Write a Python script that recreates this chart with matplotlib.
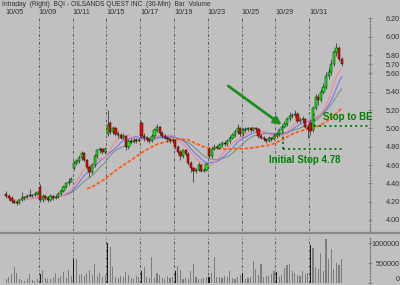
import matplotlib.pyplot as plt
import numpy as np
import pandas as pd
from matplotlib.lines import Line2D

# 30-min bars, 13 per two-day label interval
opens = [
    4.28, 4.26, 4.24, 4.21, 4.20, 4.18, 4.22, 4.24, 4.25, 4.27, 4.26, 4.27, 4.28,
    4.36, 4.22, 4.26, 4.24, 4.22, 4.26, 4.24, 4.25, 4.28, 4.32, 4.36, 4.40, 4.42,
    4.57, 4.62, 4.64, 4.68, 4.73, 4.66, 4.58, 4.52, 4.60, 4.70, 4.76, 4.77, 4.74,
    4.94, 5.06, 4.96, 5.00, 4.94, 4.93, 4.90, 4.92, 4.80, 4.86, 4.85, 4.87, 4.86,
    5.06, 4.92, 4.90, 4.88, 4.86, 4.92, 4.98, 5.01, 4.95, 4.92, 4.90, 4.88, 4.86,
    4.87, 4.80, 4.74, 4.70, 4.76, 4.72, 4.62, 4.57, 4.54, 4.55, 4.60, 4.54, 4.55,
    4.78, 4.70, 4.78, 4.80, 4.79, 4.82, 4.84, 4.83, 4.86, 4.90, 4.93, 4.96, 5.00,
    4.94, 4.98, 4.99, 5.00, 4.98, 5.00, 4.99, 4.92, 4.90, 4.88, 4.86, 4.90, 4.88,
    4.92, 4.94, 4.98, 5.02, 5.05, 5.10, 5.14, 5.15, 5.16, 5.08, 5.09, 5.10, 5.02,
    5.06, 4.98, 5.22, 5.34, 5.31, 5.40, 5.45, 5.57, 5.62, 5.70, 5.83, 5.88, 5.76,
]
closes = [
    4.26, 4.24, 4.21, 4.19, 4.18, 4.22, 4.24, 4.25, 4.26, 4.26, 4.27, 4.28, 4.30,
    4.22, 4.26, 4.24, 4.22, 4.26, 4.24, 4.25, 4.28, 4.32, 4.36, 4.40, 4.42, 4.45,
    4.62, 4.64, 4.68, 4.73, 4.66, 4.58, 4.52, 4.60, 4.70, 4.76, 4.77, 4.74, 4.78,
    5.04, 4.96, 5.00, 4.94, 4.93, 4.90, 4.92, 4.80, 4.86, 4.85, 4.87, 4.86, 4.87,
    4.92, 4.90, 4.88, 4.86, 4.92, 4.98, 5.01, 4.95, 4.92, 4.90, 4.88, 4.86, 4.87,
    4.80, 4.74, 4.70, 4.76, 4.72, 4.62, 4.57, 4.54, 4.55, 4.60, 4.54, 4.55, 4.61,
    4.70, 4.78, 4.80, 4.79, 4.82, 4.84, 4.83, 4.86, 4.90, 4.93, 4.96, 5.00, 4.94,
    4.98, 4.99, 5.00, 4.98, 5.00, 4.99, 4.92, 4.90, 4.88, 4.86, 4.90, 4.88, 4.92,
    4.94, 4.98, 5.02, 5.05, 5.10, 5.14, 5.15, 5.16, 5.08, 5.09, 5.10, 5.02, 4.99,
    4.97, 5.22, 5.34, 5.31, 5.40, 5.45, 5.57, 5.62, 5.70, 5.83, 5.88, 5.76, 5.70,
]
highs = [
    4.32, 4.28, 4.26, 4.23, 4.21, 4.23, 4.30, 4.26, 4.28, 4.34, 4.28, 4.30, 4.31,
    4.39, 4.28, 4.27, 4.26, 4.28, 4.27, 4.27, 4.30, 4.34, 4.38, 4.42, 4.46, 4.47,
    4.64, 4.67, 4.71, 4.75, 4.74, 4.67, 4.59, 4.62, 4.72, 4.78, 4.80, 4.79, 4.80,
    5.20, 5.08, 5.03, 5.01, 4.97, 4.95, 4.95, 4.93, 4.88, 4.89, 4.90, 4.89, 4.90,
    5.08, 4.95, 4.92, 4.90, 4.94, 5.00, 5.05, 5.03, 4.97, 4.94, 4.92, 4.90, 4.89,
    4.88, 4.82, 4.76, 4.78, 4.78, 4.74, 4.64, 4.58, 4.57, 4.63, 4.61, 4.57, 4.63,
    4.80, 4.80, 4.83, 4.82, 4.84, 4.86, 4.86, 4.88, 4.92, 4.95, 4.99, 5.05, 5.01,
    5.00, 5.01, 5.02, 5.01, 5.02, 5.01, 5.00, 4.94, 4.92, 4.90, 4.92, 4.91, 4.95,
    4.96, 5.00, 5.04, 5.08, 5.12, 5.18, 5.17, 5.20, 5.18, 5.12, 5.13, 5.11, 5.04,
    5.10, 5.24, 5.38, 5.37, 5.43, 5.50, 5.62, 5.66, 5.76, 5.86, 5.93, 5.90, 5.78,
]
lows = [
    4.24, 4.22, 4.19, 4.18, 4.16, 4.17, 4.21, 4.22, 4.24, 4.25, 4.25, 4.26, 4.27,
    4.20, 4.20, 4.22, 4.20, 4.21, 4.22, 4.23, 4.24, 4.27, 4.31, 4.35, 4.38, 4.41,
    4.55, 4.60, 4.62, 4.66, 4.64, 4.56, 4.47, 4.50, 4.58, 4.68, 4.73, 4.72, 4.72,
    4.92, 4.94, 4.94, 4.92, 4.90, 4.88, 4.88, 4.76, 4.78, 4.83, 4.84, 4.84, 4.85,
    4.90, 4.86, 4.85, 4.84, 4.85, 4.90, 4.96, 4.93, 4.89, 4.88, 4.85, 4.84, 4.84,
    4.78, 4.72, 4.66, 4.68, 4.70, 4.60, 4.52, 4.41, 4.51, 4.53, 4.52, 4.52, 4.53,
    4.68, 4.68, 4.76, 4.77, 4.78, 4.80, 4.81, 4.81, 4.84, 4.88, 4.91, 4.94, 4.92,
    4.92, 4.96, 4.97, 4.96, 4.97, 4.96, 4.90, 4.88, 4.86, 4.84, 4.85, 4.86, 4.87,
    4.90, 4.92, 4.96, 5.00, 5.03, 5.08, 5.11, 5.12, 5.06, 5.06, 5.07, 5.00, 4.90,
    4.93, 4.96, 5.20, 5.26, 5.29, 5.38, 5.43, 5.54, 5.58, 5.68, 5.79, 5.74, 5.68,
]
volume_k = [
    90, 150, 220, 400, 260, 110, 70, 60, 110, 230, 80, 60, 90,
    220, 320, 130, 100, 110, 150, 240, 130, 170, 280, 120, 320, 180,
    590, 590, 200, 220, 180, 250, 330, 200, 480, 170, 260, 150, 200,
    1000, 900, 400, 150, 120, 180, 140, 280, 200, 130, 110, 170, 140,
    300, 400, 160, 120, 660, 130, 250, 200, 130, 110, 170, 120, 160,
    300, 420, 330, 110, 120, 90, 300, 480, 140, 110, 90, 120, 150,
    160, 250, 650, 150, 160, 120, 180, 150, 300, 130, 110, 160, 190,
    260, 100, 130, 160, 560, 360, 200, 480, 150, 180, 170, 220, 300,
    280, 150, 200, 380, 440, 480, 300, 250, 200, 180, 300, 220, 260,
    960, 870, 400, 350, 760, 300, 1100, 600, 850, 350, 500, 450, 600,
]
date_labels = ['10/05', '10/09', '10/11', '10/15', '10/17',
               '10/19', '10/23', '10/25', '10/29', '10/31']
price_ticks = [4.00, 4.20, 4.40, 4.60, 4.80, 5.00, 5.20, 5.40, 5.60, 5.70, 5.80, 6.00, 6.20]
vol_ticks = [0, 500000, 1000000]
BARS_PER_LABEL = 13

bg = '#c0c0c0'
plt.rcParams['font.family'] = ['Liberation Sans', 'DejaVu Sans']
plt.rcParams['font.size'] = 5

df = pd.DataFrame({'open': opens, 'high': highs, 'low': lows, 'close': closes,
                   'volume': np.array(volume_k) * 1000})
x = np.arange(len(df))
ma_red = df['close'].rolling(9, min_periods=1).mean()
ma_blue = df['close'].rolling(12, min_periods=11).mean()
ma_green = df['close'].rolling(16, min_periods=15).mean()
ma_orange = df['close'].rolling(32).mean()

fig = plt.figure(figsize=(4.0, 2.85), dpi=100, facecolor=bg)
ax = fig.add_axes([0.0075, 0.1895, 0.9175, 0.7509], facecolor=bg)
ax2 = fig.add_axes([0.0075, 0.007, 0.9175, 0.1649], facecolor=bg)

xlim = (-1.27, 139.9)
day_lines = [BARS_PER_LABEL * k - 0.5 for k in range(1, len(date_labels))]
for a in (ax, ax2):
    for d in day_lines:
        a.axvline(d, color='#5a5a5a', lw=0.7, dashes=(3, 2, 1, 2), zorder=0)
    for s in ('left', 'top', 'bottom'):
        a.spines[s].set_visible(False)
    a.spines['right'].set_linestyle(':')
    a.spines['right'].set_color('#707070')
    a.spines['right'].set_linewidth(0.8)
    a.set_xlim(*xlim)
    a.yaxis.tick_right()
    a.tick_params(axis='y', direction='inout', length=3, width=0.5, color='#707070',
                  pad=20, labelsize=5.2, labelcolor='#303030')

# moving averages
ax.plot(x, ma_green, color='#6f8f78', lw=0.7, zorder=1)
ax.plot(x, ma_blue, color='#6a6aff', lw=0.7, zorder=1)
ax.plot(x, ma_red, color='#ff7f7f', lw=0.7, zorder=1)
ax.plot(x, ma_orange, color='#ff5a1a', lw=1.3, dashes=(2, 1), zorder=1)

# candles
up = df['close'] >= df['open']
body_bottom = np.minimum(df['open'], df['close'])
body_h = np.maximum(np.abs(df['close'] - df['open']), 0.006)
ax.vlines(x, df['low'], df['high'], color='#404040', lw=0.6, zorder=2)
ax.bar(x, body_h, bottom=body_bottom, width=0.8,
       color=np.where(up, '#00ff00', '#ff0000'), edgecolor='#101010', linewidth=0.35, zorder=3)

ax.set_ylim(3.88, 6.215)
ax.set_yticks(price_ticks)
ax.set_yticklabels(['%.2f' % t for t in price_ticks])
for lab in ax.get_yticklabels():
    lab.set_horizontalalignment('right')

ax.xaxis.tick_top()
ax.set_xticks([BARS_PER_LABEL * k - 0.5 for k in range(len(date_labels))])
ax.set_xticklabels(date_labels)
ax.tick_params(axis='x', length=0, pad=0.8, labelsize=5.2, labelcolor='#303030')
for lab in ax.get_xticklabels():
    lab.set_horizontalalignment('left')

# volume
vcol = ['#1a1a1a' if (i % BARS_PER_LABEL == 0 and i > 0) else '#7c7c7c' for i in x]
ax2.bar(x, df['volume'], width=0.45, color=vcol, linewidth=0)
ax2.set_ylim(0, 1175000)
ax2.set_yticks(vol_ticks)
ax2.set_yticklabels([str(v) for v in vol_ticks])
for lab in ax2.get_yticklabels():
    lab.set_horizontalalignment('right')
ax2.get_yticklabels()[0].set_verticalalignment('bottom')
ax2.set_xticks([])

# annotations
green = '#008000'
ax.annotate('', xy=(106.8, 5.02), xytext=(84.5, 5.48),
            arrowprops=dict(arrowstyle='-|>', color='#1e8c1e', lw=2, mutation_scale=11))
ax.plot([118.3, 118.3], [5.03, 5.19], color=green, lw=1.4, ls=':', zorder=4)
ax.plot([118.3, 139.9], [5.03, 5.03], color=green, lw=1.4, ls=':', zorder=4, clip_on=False)
ax.plot([106.4, 106.4], [4.78, 4.98], color=green, lw=1.4, ls=':', zorder=4)
ax.plot([106.4, 129.5], [4.78, 4.78], color=green, lw=1.4, ls=':', zorder=4)
ax.text(131.4, 5.12, 'Stop to BE', color=green, fontsize=7, fontweight='bold',
        ha='center', va='center')
ax.text(114.7, 4.66, 'Initial Stop 4.78', color=green, fontsize=7, fontweight='bold',
        ha='center', va='center')

fig.text(0.005, 1 - 5 / 285, 'Intraday  (Right)  BQI - OILSANDS QUEST INC  (30-Min)  Bar  Volume',
         ha='left', va='center', fontsize=4.8, color='#303030')
fig.add_artist(Line2D([0, 1], [1 - 233 / 285] * 2, color='#8a8a8a', lw=1.6))

fig.savefig('out.png', dpi=100, facecolor=bg)
